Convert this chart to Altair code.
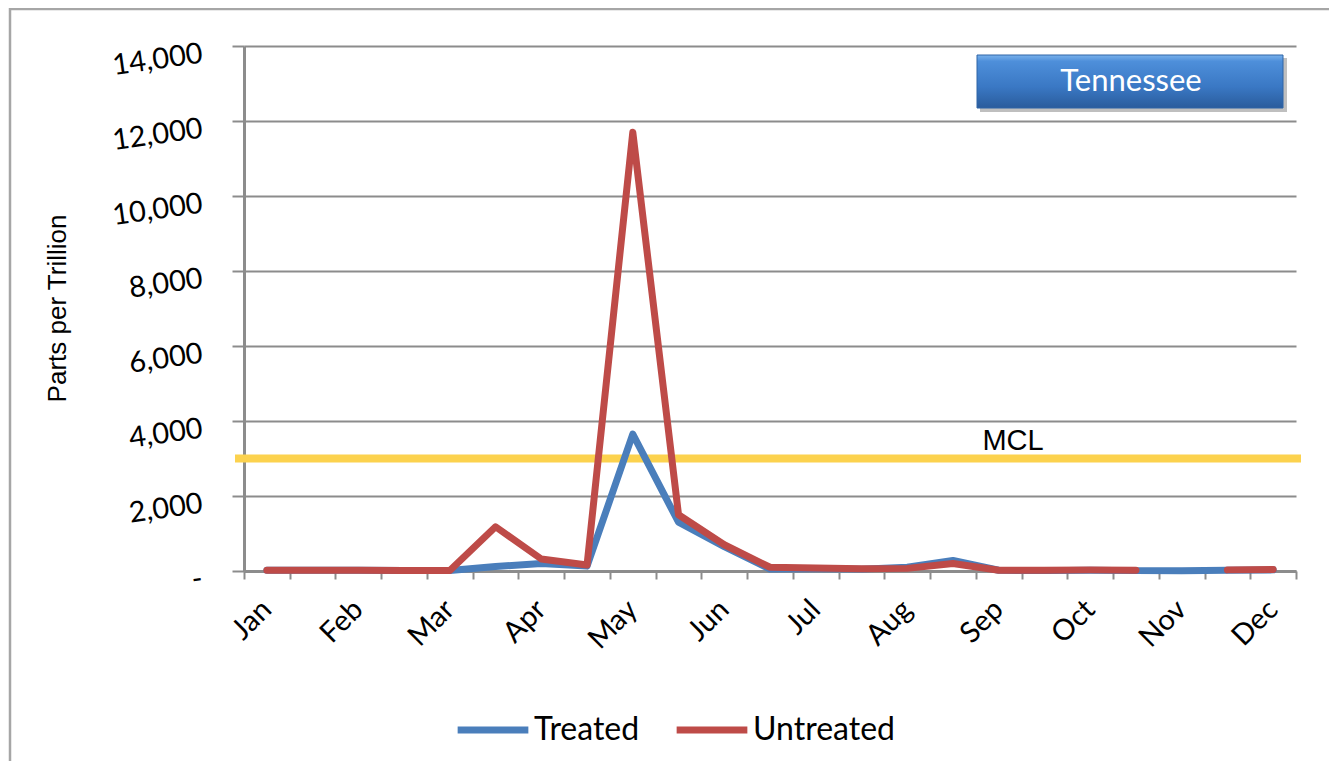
import altair as alt
import pandas as pd

# ---------------- data ----------------
months = ["Jan", "Feb", "Mar", "Apr", "May", "Jun", "Jul", "Aug", "Sep", "Oct", "Nov", "Dec"]
n_cat = 23  # sampling points (about two per month)
treated = [20, 20, 20, 15, 15, 120, 200, 130, 3650, 1300, 650, 50,
           60, 50, 100, 280, 20, 10, 20, 10, 10, 20, 30]
untreated = [20, 20, 20, 15, 15, 1180, 320, 160, 11700, 1500, 700, 100,
             80, 60, 70, 200, 20, 20, 30, 20, None, 30, 40]
series_names = ["Treated", "Untreated"]
series_colors = ["#4A7EBB", "#BE4B48"]
y_ticks = [0, 2000, 4000, 6000, 8000, 10000, 12000, 14000]
mcl_value = [3000]
mcl_label = ["MCL"]
state_name = ["Tennessee"]

# ---------------- tables ----------------
rows = []
for name, vals in zip(series_names, [treated, untreated]):
    seg = 0
    for i, v in enumerate(vals):
        if v is None:
            seg += 1
            continue
        rows.append({"series": name, "x": i + 0.5, "value": v, "seg": f"{name}-{seg}"})
df = pd.DataFrame(rows)
month_df = pd.DataFrame({"month": months, "x": [2 * k + 0.5 for k in range(len(months))]})
mcl_df = pd.DataFrame({"mcl": mcl_value, "label": mcl_label})
state_df = pd.DataFrame({"state": state_name})

W, H = 1052, 525
GRID = "#8c8c8c"

x_scale = alt.Scale(domain=[0, n_cat], nice=False, zero=False)
y_scale = alt.Scale(domain=[0, 14000], nice=False)

# outer frame
frame = alt.Chart(state_df).mark_rect(fill="white", fillOpacity=0, stroke="#a6a6a6", strokeWidth=2.5).encode(
    x=alt.value(-234), x2=alt.value(1100), y=alt.value(-37), y2=alt.value(760)
)

lines = alt.Chart(df).mark_line(strokeWidth=7, strokeCap="round", strokeJoin="round").encode(
    x=alt.X("x:Q", scale=x_scale,
            axis=alt.Axis(values=list(range(n_cat + 1)), labels=False, ticks=True, tickSize=8,
                          tickColor=GRID, tickWidth=2, domainColor=GRID, domainWidth=3,
                          grid=False, title=None)),
    y=alt.Y("value:Q", scale=y_scale,
            axis=alt.Axis(values=y_ticks,
                          labelExpr="datum.value == 0 ? '-' : format(datum.value, ',')",
                          labelFont="Lato", labelFontSize=29, labelColor="black",
                          labelAngle=-8, labelPadding=30, labelOffset=7,
                          tickSize=12, tickColor=GRID, tickWidth=2,
                          grid=True, gridColor=GRID, gridWidth=2,
                          domainColor=GRID, domainWidth=3,
                          title="Parts per Trillion", titleFont="Liberation Sans",
                          titleFontSize=26, titleFontWeight="normal", titleColor="black",
                          titleAngle=-90, titleX=-187, titleY=262, titleAlign="center",
                          titleBaseline="middle")),
    color=alt.Color("series:N", scale=alt.Scale(domain=series_names, range=series_colors),
                    legend=alt.Legend(orient="none", legendX=210, legendY=645,
                                      direction="horizontal", title=None,
                                      symbolType="stroke", symbolSize=5000,
                                      symbolStrokeWidth=7, labelFont="Lato",
                                      labelFontSize=32, labelColor="black",
                                      labelOffset=2, columnPadding=22, padding=0)),
    detail="seg:N",
)

mcl_rule = alt.Chart(mcl_df).mark_rule(color="#FCD24E", strokeWidth=8).encode(
    y=alt.Y("mcl:Q", scale=y_scale), x=alt.value(-9), x2=alt.value(1057)
)
mcl_text = alt.Chart(mcl_df).mark_text(font="Liberation Sans", fontSize=29, color="black",
                                       align="center", baseline="alphabetic", dy=-9).encode(
    y=alt.Y("mcl:Q", scale=y_scale), x=alt.value(769), text="label:N"
)

month_labels = alt.Chart(month_df).mark_text(font="Lato", fontSize=29, color="black",
                                             angle=315, align="right", baseline="middle").encode(
    x=alt.X("x:Q", scale=x_scale), y=alt.value(559), text="month:N"
)

shadow = alt.Chart(state_df).mark_rect(fill="#000000", opacity=0.25).encode(
    x=alt.value(736), x2=alt.value(1043), y=alt.value(12), y2=alt.value(66)
)
box = alt.Chart(state_df).mark_rect(
    fill=alt.LinearGradient(gradient="linear", x1=0, x2=0, y1=0, y2=1,
                            stops=[alt.GradientStop(offset=0, color="#79B2EC"),
                                   alt.GradientStop(offset=0.12, color="#4E8FDA"),
                                   alt.GradientStop(offset=0.6, color="#3A78C4"),
                                   alt.GradientStop(offset=1, color="#2A5C9C")]),
    stroke="#2F64A6", strokeWidth=1
).encode(x=alt.value(733), x2=alt.value(1039), y=alt.value(9), y2=alt.value(62))
box_text = alt.Chart(state_df).mark_text(font="Lato", fontSize=31, color="white",
                                         align="center", baseline="middle").encode(
    x=alt.value(887), y=alt.value(36), text="state:N"
)

chart = alt.layer(frame, mcl_rule, mcl_text, lines, month_labels, shadow, box, box_text).properties(
    width=W, height=H,
    autosize=alt.AutoSizeParams(type="none"),
    padding={"left": 236, "top": 38, "right": 33, "bottom": 190},
    background="white",
).configure_view(stroke=None)

chart.save("out.html", embed_options={"renderer": "svg", "actions": False})
